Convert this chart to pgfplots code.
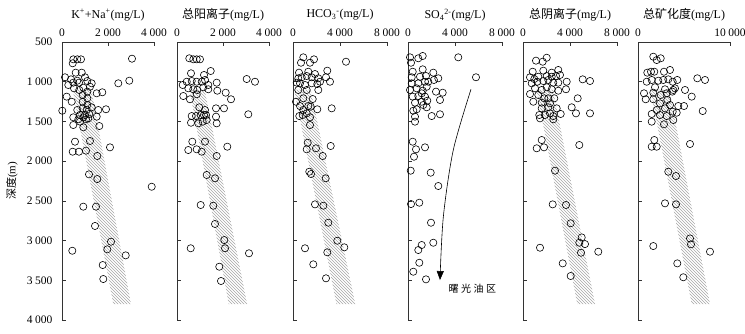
\documentclass[border=0pt]{standalone}
\usepackage{fontspec}
\setmainfont{Liberation Serif}
\newfontfamily\cjk{Noto Sans CJK SC}
\usepackage{pgfplots}
\pgfplotsset{compat=1.18}
\usetikzlibrary{patterns,arrows.meta}

\pgfplotsset{
  panel/.style={
    scale only axis, width=92pt, height=278pt,
    axis x line=top, axis y line=left,
    axis line style={-, line width=0.6pt, black!80},
    x axis line style={-}, y axis line style={-},
    tick align=inside, major tick length=4pt,
    tick style={line width=0.6pt, black!80},
    y dir=reverse, ymin=500, ymax=4000, ytick={500,1000,...,4000},
    xmin=0, clip=false, scaled x ticks=false, scaled y ticks=false,
    /pgf/number format/assume math mode=true,
    /pgf/number format/1000 sep={\hspace{0.22em}},
    tick label style={font=\fontsize{11.5}{13}\selectfont},
    xticklabel style={yshift=2pt},
    yticklabel style={xshift=-6pt},
    every axis title/.style={at={(0.5,1)},anchor=center,yshift=27pt,font=\fontsize{12}{14}\selectfont},
  },
  pts/.style={only marks, mark=o, mark size=3.6pt, mark options={line width=0.6pt, black}},
  band/.style={draw=none, pattern=north west lines, pattern color=gray!70},
}

\begin{document}
\begin{tikzpicture}
% ---------- panel 1 ----------
\begin{axis}[panel, at={(62pt,13pt)}, anchor=south west, width=92pt,
  xmax=4000, xtick={0,2000,4000},
  title={K\textsuperscript{+}+Na\textsuperscript{+}(mg/L)}]
\addplot[band] coordinates {(466,1100) (1276,1100) (3000,3800) (2232,3800)} -- cycle;
\addplot[pts] coordinates {
(491,718) (665,718) (826,718) (465,768) (3043,710)
(130,944) (596,886) (857,886)
(391,970) (665,987) (1000,944) (1100,991) (1291,1020)
(274,1041) (491,1012) (739,1012) (926,1075) (1217,1063)
(2448,1020) (2926,987)
(522,1083) (752,1104) (900,1167) (1100,1125)
(1509,1146) (1752,1133)
(204,1188) (422,1252) (900,1252) (1100,1209) (1100,1293)
(13,1365)
(665,1356) (900,1335) (1074,1356) (1291,1322) (1578,1356) (1913,1347)
(783,1419) (1000,1419) (1187,1406)
(491,1448) (709,1473) (926,1448) (1144,1461) (1509,1440)
(491,1545) (783,1503) (1043,1473) (1622,1558)
(926,1574)
(565,1755) (1217,1746) (2087,1826)
(465,1881) (739,1881) (1043,1868) (1535,1935)
(1174,2166) (1535,2225) (3900,2322) (926,2573) (1478,2573) (1435,2816)
(2130,3014) (1970,3110) (448,3128) (2770,3186) (1770,3308) (1796,3484)
};
\end{axis}
% ---------- panel 2 ----------
\begin{axis}[panel, at={(177pt,13pt)}, anchor=south west, width=92pt,
  xmax=4000, xtick={0,2000,4000}, yticklabels={},
  title={{\cjk 总阳离子}(mg/L)}]
\addplot[band] coordinates {(550,1100) (1200,1100) (3050,3800) (2250,3800)} -- cycle;
\addplot[pts] coordinates {
(535,705) (709,718) (857,718) (1000,718)
(1465,865) (609,894) (1174,915)
(3030,966) (3391,1000)
(248,1041) (422,1000) (639,991) (857,1000) (1074,1000) (1217,978) (1361,1041) (1726,1012)
(491,1083) (709,1095) (883,1104) (1143,1070) (1361,1095) (1752,1113) (2117,1138)
(274,1180) (565,1221) (857,1158)
(2348,1221)
(1696,1335) (2043,1335)
(970,1322) (1217,1356) (1030,1419) (1261,1419)
(639,1432) (826,1432) (1174,1419)
(1696,1440) (3100,1410)
(609,1516) (926,1524) (1117,1503) (1291,1482) (1726,1524)
(665,1755) (1217,1755) (2187,1818)
(491,1860) (857,1851) (1074,1881) (1726,1935)
(1291,2174) (1652,2216) (1030,2552) (1578,2561) (1652,2791) (2057,2993)
(2087,3097) (596,3097) (3130,3160) (1839,3329) (1913,3509)
};
\end{axis}
% ---------- panel 3 ----------
\begin{axis}[panel, at={(293pt,13pt)}, anchor=south west, width=94pt,
  xmax=8000, xtick={0,4000,8000}, yticklabels={},
  title={HCO\textsubscript{3}\textsuperscript{-}(mg/L)}]
\addplot[band] coordinates {(100,1100) (1500,1100) (5300,3800) (3700,3800)} -- cycle;
\addplot[pts] coordinates {
(877,693) (1787,718) (681,761) (1447,761) (4510,748)
(511,886) (1302,874) (1872,903) (2919,861)
(451,957) (740,944) (1166,928) (1591,944) (2153,957) (2808,944) (3149,1000) (2298,1000)
(315,1012) (596,1020) (1021,1041) (1591,1020) (2068,1029)
(451,1104) (1166,1104) (2153,1104)
(877,1209) (1676,1218) (255,1252)
(596,1306) (1302,1306) (877,1356) (1506,1314) (2068,1347) (3293,1335)
(1166,1398) (536,1432) (825,1419) (1447,1448) (1447,1545)
(1251,1768) (1166,1851) (1957,1838) (3208,1809) (2527,1935)
(1387,2133) (1532,2162) (2783,2216) (1872,2544) (2581,2561) (3004,2775)
(3770,3002) (4366,3085) (1021,3097) (2919,3148) (1728,3299) (2808,3475)
};
\end{axis}
% ---------- panel 4 ----------
\begin{axis}[panel, at={(408pt,13pt)}, anchor=south west, width=94pt,
  xmax=8000, xtick={0,4000,8000}, yticklabels={},
  title={SO\textsubscript{4}\textsuperscript{2-}(mg/L)}]
\addplot[pts] coordinates {
(170,693) (255,761) (877,705) (1251,676) (4280,693) (5787,944)
(400,874) (315,944) (1021,937) (1251,844) (1532,928) (2153,886) (2579,957) (2204,978)
(315,1020) (877,1020) (1447,1000) (1728,1000)
(170,1104) (740,1083) (1251,1113) (1591,1063) (2383,1125) (2953,1138) (2723,1230)
(400,1188) (877,1180) (1166,1146) (1447,1188) (596,1264) (1166,1252) (1642,1239) (1302,1293) (1591,1322)
(451,1365) (740,1347) (596,1440) (596,1503)
(2017,1432) (2723,1410)
(400,1755) (681,1851) (511,1944) (1447,1826)
(230,2120) (1932,2145) (2579,2313) (255,2540) (962,2523) (1957,2775)
(877,3119) (1166,3056) (2153,3027) (962,3279) (451,3392) (1532,3488)
};
\addplot[smooth, line width=0.6pt, black, -{Triangle[length=9pt,width=7pt]}]
  coordinates {(5362,1095) (3855,1860) (3008,2700) (2723,3497)};
\node[anchor=west, font=\fontsize{10}{12}\selectfont\cjk] at (axis cs:3149,3610)
  {曙\hspace{2.5pt}光\hspace{2.5pt}油\hspace{2.5pt}区};
\end{axis}
% ---------- panel 5 ----------
\begin{axis}[panel, at={(523pt,13pt)}, anchor=south west, width=94pt,
  xmax=8000, xtick={0,4000,8000}, yticklabels={},
  title={{\cjk 总阴离子}(mg/L)}]
\addplot[band] coordinates {(1150,1100) (2550,1100) (6130,3800) (4620,3800)} -- cycle;
\addplot[pts] coordinates {
(1106,735) (1676,748) (2017,698)
(826,874) (1727,861) (2442,886) (3004,852)
(596,944) (962,966) (1302,937) (2017,928) (2442,937) (2808,928) (3149,915)
(740,1020) (1217,1000) (1727,991) (2153,978) (2579,1012) (3004,1012) (3719,1000)
(5080,970) (5702,991)
(1021,1083) (1591,1104) (2017,1070) (2442,1095) (3004,1113) (3659,1095)
(596,1155) (1302,1167) (1813,1209) (2153,1209) (2664,1209)
(4655,1209)
(877,1252) (1591,1264) (2298,1272)
(4144,1322) (4510,1398) (5702,1398)
(1591,1335) (2153,1322) (2868,1335) (1387,1419) (1872,1419) (2298,1398) (2579,1432) (3208,1406)
(1447,1461) (2579,1473)
(1591,1734) (1166,1838) (1787,1826) (4791,1797)
(2723,2120) (2527,2544) (3659,2552) (4059,2782) (4995,2960) (4791,3027)
(5277,3044) (4936,3153) (1447,3090) (6408,3140) (3378,3287) (4059,3446)
};
\end{axis}
% ---------- panel 6 ----------
\begin{axis}[panel, at={(638pt,13pt)}, anchor=south west, width=92pt,
  xmax=10000, xtick={0,10000}, yticklabels={},
  title={{\cjk 总矿化度}(mg/L)}]
\addplot[band] coordinates {(1355,1100) (3400,1100) (7830,3800) (5840,3800)} -- cycle;
\addplot[pts] coordinates {
(1663,685) (2033,727) (2468,705)
(1011,886) (1413,874) (1772,874) (2826,874) (3478,852)
(946,1000) (1489,978) (2207,987) (2750,978) (3293,970) (3772,1000) (4272,978)
(6446,957) (7283,978)
(1848,1070) (2935,1095) (3837,1104) (4022,1083) (5109,1104)
(652,1146) (1663,1138) (2468,1167) (3120,1146) (3728,1125)
(837,1221) (1663,1221) (3185,1230) (5837,1188)
(2391,1272) (3478,1293) (4380,1306) (4999,1306)
(2033,1356) (2935,1335) (3772,1377)
(1489,1406) (2391,1419) (3120,1432) (4207,1390) (7033,1369)
(1489,1503) (2826,1536) (3837,1482)
(1772,1734) (1489,1818) (2033,1818) (5652,1784)
(3293,2133) (4130,2187) (2935,2531) (4130,2544) (5652,2973) (5761,3047)
(1663,3069) (7826,3140) (4272,3287) (4924,3462)
};
\end{axis}
\node[rotate=90, font=\fontsize{11}{13}\selectfont] at (12pt,152pt) {{\cjk 深度}(m)};
\pgfresetboundingbox
\path (0,0) rectangle (745pt,333pt);
\end{tikzpicture}
\end{document}
